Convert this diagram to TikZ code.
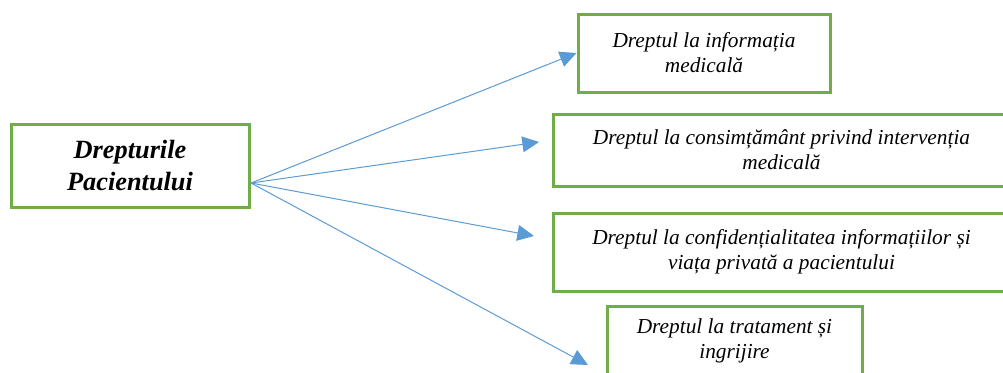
\documentclass[tikz,border=0pt]{standalone}
\usepackage{fontspec}
\setmainfont{Liberation Serif}
\usepackage{xcolor}
\usetikzlibrary{positioning}
\usetikzlibrary{arrows.meta}
\definecolor{boxgreen}{HTML}{70AD47}
\definecolor{arrowblue}{HTML}{5B9BD5}
\tikzset{>={Triangle[width=9.5pt,length=10pt]}}

\begin{document}
\begin{tikzpicture}[x=0.6pt, y=-0.6pt, node/.style={rectangle, draw=boxgreen, line width=1.8pt, align=center, inner sep=0pt, font=\itshape\fontsize{12.8}{15}\selectfont}, bignode/.style={rectangle, draw=boxgreen, line width=1.8pt, align=center, inner sep=0pt, font=\bfseries\itshape\fontsize{15.8}{19.2}\selectfont}, arrow/.style={->, draw=arrowblue, line width=0.6pt}]

    \useasboundingbox (0,0) rectangle (1003,372);
    \clip (0,0) rectangle (1003,372);

    %Nodes
    \node[bignode, minimum width=142.8pt, minimum height=49.8pt](rights) at (130,165.5){Drepturile\\Pacientului};

    \node[node, minimum width=151.2pt, minimum height=46.8pt](info) at (704,53){Dreptul la informația\\medicală};
    \node[node, minimum width=274.2pt, minimum height=43.2pt](consent) at (781.5,150){Dreptul la consimțământ privind intervenția\\medicală};
    \node[node, minimum width=274.2pt, minimum height=46.8pt](privacy) at (781.5,252){Dreptul la confidențialitatea informațiilor și\\viața privată a pacientului};
    \node[node, minimum width=153pt, minimum height=42pt](care) at (734.5,341){Dreptul la tratament și\\ingrijire};

    \coordinate (hub) at (251,183);
    \coordinate (consent_tip) at (539,142);
    \coordinate (privacy_tip) at (534,236);
    \coordinate (care_tip) at (588,365);

    %Lines
    \draw[arrow] (hub) -- (info.west);
    \draw[arrow] (hub) -- (consent_tip);
    \draw[arrow] (hub) -- (privacy_tip);
    \draw[arrow] (hub) -- (care_tip);

\end{tikzpicture}
\end{document}
